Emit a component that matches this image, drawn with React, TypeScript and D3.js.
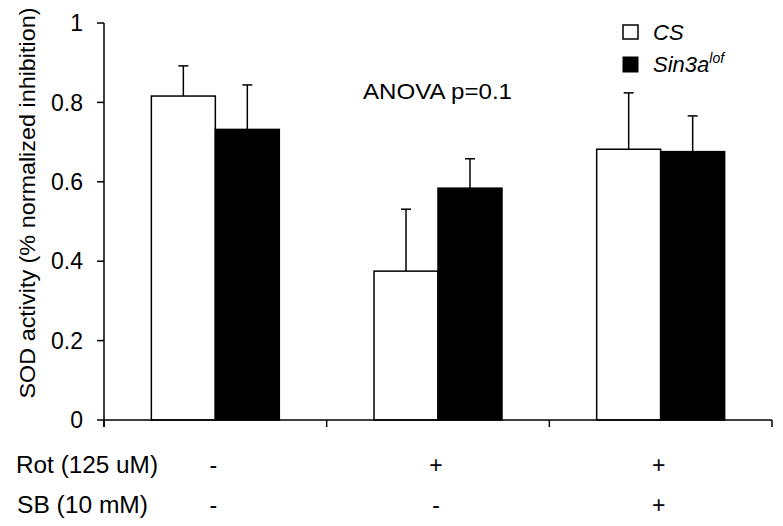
import React from "react";
import * as d3 from "d3";

const groups = ["g1", "g2", "g3"];
const seriesNames = ["CS", "Sin3a"];
const csValues = [0.816, 0.375, 0.682];
const csErrors = [0.076, 0.156, 0.142];
const sinValues = [0.732, 0.584, 0.676];
const sinErrors = [0.112, 0.074, 0.09];
const yTicks = [0, 0.2, 0.4, 0.6, 0.8, 1];
const yTickLabels = ["0", "0.2", "0.4", "0.6", "0.8", "1"];
const rotLabels = ["-", "+", "+"];
const sbLabels = ["-", "-", "+"];

const W = 783;
const H = 526;
const X0 = 104;
const X1 = 772;
const Y0 = 420;
const Y1 = 23;
const FONT = "'Liberation Sans', Arial, Helvetica, sans-serif";

export default function App() {
  const x = d3.scaleBand<string>().domain(groups).range([X0, X1]).paddingInner(0).paddingOuter(0);
  const xs = d3.scaleBand<string>().domain(seriesNames).range([0, x.bandwidth()]).paddingInner(0).paddingOuter(0.74);
  const y = d3.scaleLinear().domain([0, 1]).range([Y0, Y1]);

  const series = [
    { name: "CS", values: csValues, errors: csErrors, fill: "#ffffff" },
    { name: "Sin3a", values: sinValues, errors: sinErrors, fill: "#000000" },
  ];

  const bandEdges = [X0, ...groups.map((g) => (x(g) as number) + x.bandwidth())];

  return (
    <svg width={W} height={H} style={{ position: "absolute", left: 0, top: 0, background: "#fff" }}>
      <rect x={0} y={0} width={W} height={H} fill="#fff" />
      {/* bars */}
      {series.map((s) =>
        groups.map((g, i) => {
          const bx = (x(g) as number) + (xs(s.name) as number);
          const bw = xs.bandwidth();
          const top = y(s.values[i]);
          const errTop = y(s.values[i] + s.errors[i]);
          const cx = bx + bw / 2;
          return (
            <g key={s.name + g}>
              <line x1={cx} x2={cx} y1={top} y2={errTop} stroke="#000" strokeWidth={1.5} />
              <line x1={cx - 5} x2={cx + 5} y1={errTop} y2={errTop} stroke="#000" strokeWidth={1.5} />
              <rect x={bx} y={top} width={bw} height={Y0 - top} fill={s.fill} stroke="#000" strokeWidth={1.5} />
            </g>
          );
        })
      )}
      {/* y axis */}
      <line x1={X0} x2={X0} y1={y(1)} y2={Y0 + 7} stroke="#000" strokeWidth={1.5} />
      {yTicks.map((t, i) => (
        <g key={t}>
          <line x1={X0 - 7} x2={X0} y1={y(t)} y2={y(t)} stroke="#000" strokeWidth={1.5} />
          <text x={83} y={y(t) + 8.2} textAnchor="end" fontFamily={FONT} fontSize={23} fill="#000">
            {yTickLabels[i]}
          </text>
        </g>
      ))}
      {/* x axis */}
      <line x1={X0} x2={X1} y1={Y0} y2={Y0} stroke="#000" strokeWidth={1.5} />
      {bandEdges.map((e) => (
        <line key={e} x1={e} x2={e} y1={Y0} y2={Y0 + 7} stroke="#000" strokeWidth={1.5} />
      ))}
      {/* y label */}
      <text
        transform={`translate(35, 203) rotate(-90)`}
        textAnchor="middle"
        fontFamily={FONT}
        fontSize={22}
        textLength={391}
        lengthAdjust="spacingAndGlyphs"
        fill="#000"
      >
        SOD activity (% normalized inhibition)
      </text>
      {/* treatment rows */}
      <text x={16} y={473} fontFamily={FONT} fontSize={23} textLength={142} lengthAdjust="spacingAndGlyphs">
        Rot (125 uM)
      </text>
      <text x={17} y={513} fontFamily={FONT} fontSize={23} textLength={131} lengthAdjust="spacingAndGlyphs">
        SB (10 mM)
      </text>
      {groups.map((g, i) => {
        const cx = (x(g) as number) + x.bandwidth() / 2;
        return (
          <g key={"lab" + g}>
            <text x={cx - 2} y={473} textAnchor="middle" fontFamily={FONT} fontSize={23}>
              {rotLabels[i]}
            </text>
            <text x={cx - 2} y={513} textAnchor="middle" fontFamily={FONT} fontSize={23}>
              {sbLabels[i]}
            </text>
          </g>
        );
      })}
      {/* annotation */}
      <text x={363} y={99} fontFamily={FONT} fontSize={22} textLength={149} lengthAdjust="spacingAndGlyphs">
        ANOVA p=0.1
      </text>
      {/* legend */}
      <rect x={623} y={25} width={15} height={14} fill="#fff" stroke="#000" strokeWidth={1.5} />
      <text x={653} y={39.5} fontFamily={FONT} fontSize={22} fontStyle="italic">
        CS
      </text>
      <rect x={623} y={57} width={15} height={15} fill="#000" stroke="#000" strokeWidth={1} />
      <text x={653} y={72} fontFamily={FONT} fontSize={22} fontStyle="italic">
        Sin3a
        <tspan dy={-9} fontSize={14}>lof</tspan>
      </text>
    </svg>
  );
}
